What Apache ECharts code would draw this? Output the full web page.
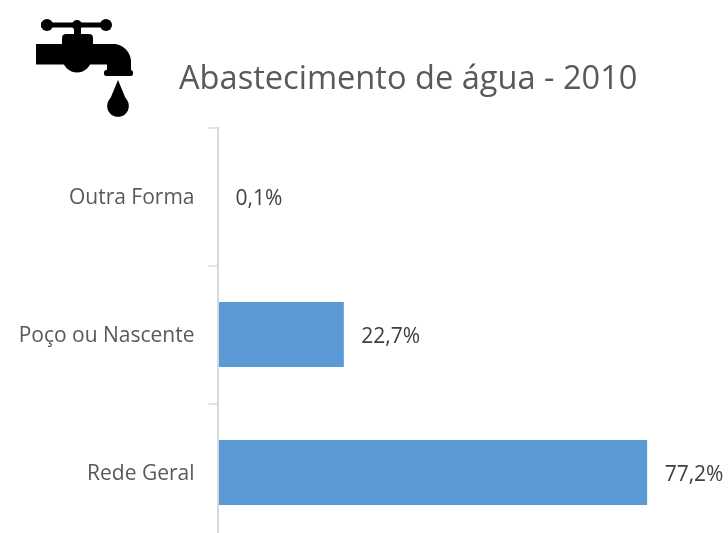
<!DOCTYPE html>
<html>
<head>
<meta charset="utf-8">
<style>html,body{margin:0;padding:0;background:#fff}#c{width:728px;height:533px}</style>
<script src="https://cdn.jsdelivr.net/npm/echarts@6/dist/echarts.min.js"></script>
</head>
<body>
<div id="c"></div>
<script>
const categories = ['Rede Geral', 'Poço ou Nascente', 'Outra Forma'];
const values = [77.2, 22.7, 0.1];
const titleText = 'Abastecimento de água - 2010';
const font = '"Open Sans", sans-serif';

const chart = echarts.init(document.getElementById('c'), null, {renderer: 'canvas'});
const black = {fill: '#000'};
chart.setOption({
  animation: false,
  backgroundColor: '#fff',
  title: {
    text: titleText, left: 174, top: 58,
    textStyle: {fontFamily: font, fontSize: 32.6, fontWeight: 'normal', color: '#595959'}
  },
  grid: {left: 217.5, top: 127.5, width: 512, height: 414, containLabel: false, outerBoundsMode: 'none'},
  xAxis: {type: 'value', min: 0, max: 92, show: false},
  yAxis: {
    type: 'category', data: categories, z: 3,
    axisLine: {show: true, lineStyle: {color: '#d9d9d9', width: 2}},
    axisTick: {show: true, length: 9, lineStyle: {color: '#d9d9d9', width: 1.5}},
    axisLabel: {
      margin: 23,
      formatter: v => '{a|' + v + '}',
      rich: {a: {fontFamily: font, fontSize: 21, color: '#595959', padding: [4, 0, 0, 0]}}
    }
  },
  series: [{
    type: 'bar', data: values, barWidth: 65,
    itemStyle: {color: '#5b9bd5'},
    label: {
      show: true, position: 'right', distance: 17.5, offset: [0, 2.5],
      fontFamily: font, fontSize: 21, color: '#404040',
      formatter: p => p.value.toFixed(1).replace('.', ',') + '%'
    }
  }],
  graphic: [
    {type: 'rect', silent: true, shape: {x: 41, y: 22.5, width: 65, height: 5}, style: black},
    {type: 'circle', silent: true, shape: {cx: 47, cy: 25, r: 6}, style: black},
    {type: 'circle', silent: true, shape: {cx: 77, cy: 25, r: 5}, style: black},
    {type: 'circle', silent: true, shape: {cx: 106, cy: 25, r: 6}, style: black},
    {type: 'rect', silent: true, shape: {x: 74, y: 25, width: 7, height: 11}, style: black},
    {type: 'rect', silent: true, shape: {x: 62, y: 34, width: 31, height: 14, r: 4}, style: black},
    {type: 'rect', silent: true, shape: {x: 36, y: 44, width: 80, height: 20.5}, style: black},
    {type: 'circle', silent: true, shape: {cx: 77, cy: 58, r: 14.5}, style: black},
    {type: 'sector', silent: true, shape: {cx: 113, cy: 62, r: 18, r0: 0, startAngle: -Math.PI / 2, endAngle: 0}, style: black},
    {type: 'rect', silent: true, shape: {x: 107, y: 60, width: 24, height: 12}, style: black},
    {type: 'rect', silent: true, shape: {x: 104, y: 70, width: 29, height: 6, r: 2.5}, style: black},
    {type: 'polygon', silent: true, shape: {points: [[118, 80], [108.5, 103], [127.5, 103]]}, style: black},
    {type: 'circle', silent: true, shape: {cx: 118, cy: 106, r: 10.8}, style: black}
  ]
});
</script>
</body>
</html>
